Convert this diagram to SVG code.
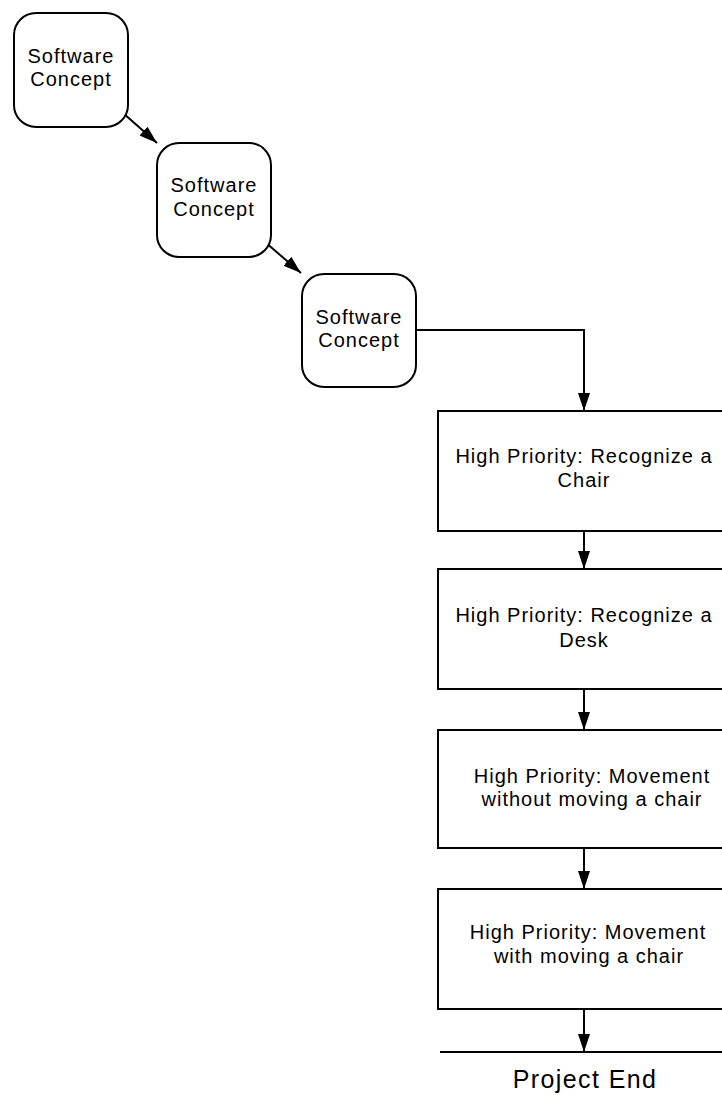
<svg xmlns="http://www.w3.org/2000/svg" width="722" height="1095" viewBox="0 0 722 1095">
<defs>
<style>
.n{fill:#fff;stroke:#000;stroke-width:2}
.t{font-family:"Liberation Sans",Arial,sans-serif;font-size:20px;letter-spacing:1px;text-anchor:middle;fill:#000}
.c{fill:none;stroke:#000;stroke-width:2}
.e{font-family:"Liberation Sans",Arial,sans-serif;font-size:25px;letter-spacing:1.4px;text-anchor:middle;fill:#000}
</style>
<marker id="ah" markerUnits="userSpaceOnUse" markerWidth="19" markerHeight="13" refX="18" refY="6.5" orient="auto">
<path d="M0,0.5 L18,6.5 L0,12.5 z" fill="#000"/>
</marker>
</defs>
<rect width="722" height="1095" fill="#fff"/>
<g id="connectors">
<line class="c" x1="123" y1="113" x2="157" y2="143" marker-end="url(#ah)"/>
<line class="c" x1="265" y1="242" x2="301" y2="273" marker-end="url(#ah)"/>
<path class="c" d="M416,330 H584 V411" marker-end="url(#ah)"/>
<path class="c" d="M584,531 V569" marker-end="url(#ah)"/>
<path class="c" d="M584,689 V730" marker-end="url(#ah)"/>
<path class="c" d="M584,848 V889" marker-end="url(#ah)"/>
<path class="c" d="M584,1009 V1052" marker-end="url(#ah)"/>
</g>
<g id="concept1">
<rect class="n" x="14" y="13" width="114" height="114" rx="22" ry="22"/>
<text class="t" x="71" y="63">Software</text>
<text class="t" x="71" y="86">Concept</text>
</g>
<g id="concept2">
<rect class="n" x="157" y="143" width="114" height="114" rx="22" ry="22"/>
<text class="t" x="214" y="192">Software</text>
<text class="t" x="214" y="216">Concept</text>
</g>
<g id="concept3">
<rect class="n" x="302" y="274" width="114" height="113" rx="22" ry="22"/>
<text class="t" x="359" y="324">Software</text>
<text class="t" x="359" y="347">Concept</text>
</g>
<g id="task1">
<rect class="n" x="438" y="411" width="292" height="120"/>
<text class="t" x="584" y="463">High Priority: Recognize a</text>
<text class="t" x="584" y="487">Chair</text>
</g>
<g id="task2">
<rect class="n" x="438" y="569" width="292" height="120"/>
<text class="t" x="584" y="622">High Priority: Recognize a</text>
<text class="t" x="584" y="647">Desk</text>
</g>
<g id="task3">
<rect class="n" x="438" y="730" width="292" height="118"/>
<text class="t" x="592" y="783">High Priority: Movement</text>
<text class="t" x="592" y="806">without moving a chair</text>
</g>
<g id="task4">
<rect class="n" x="438" y="889" width="292" height="120"/>
<text class="t" x="588" y="939">High Priority: Movement</text>
<text class="t" x="589" y="963">with moving a chair</text>
</g>
<g id="project-end">
<line class="c" x1="440" y1="1052" x2="730" y2="1052"/>
<text class="e" x="585" y="1088">Project End</text>
</g>
</svg>
